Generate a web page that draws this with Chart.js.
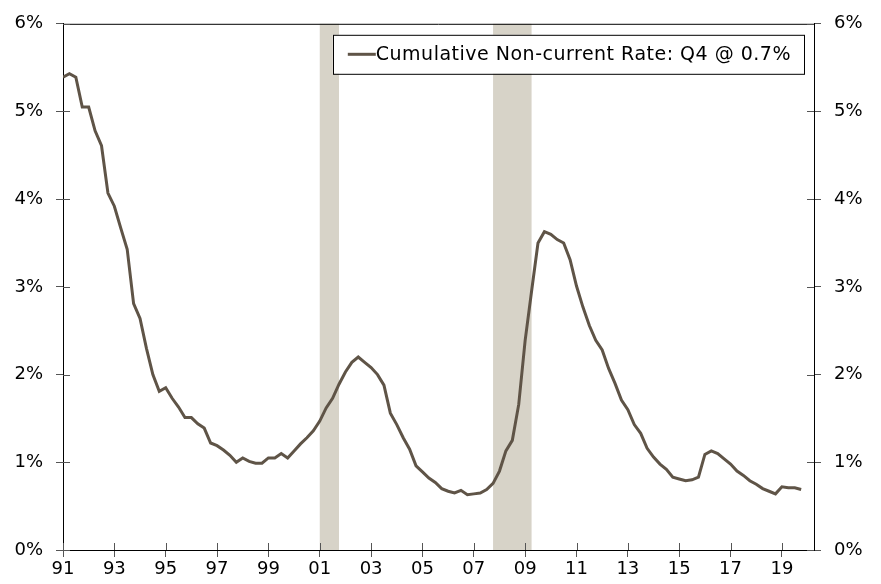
<!DOCTYPE html>
<html>
<head>
<meta charset="utf-8">
<script src="https://cdn.jsdelivr.net/npm/chart.js@4.4.0/dist/chart.umd.min.js"></script>
<style>
  html, body { margin: 0; padding: 0; background: #fff; }
  #wrap { width: 881px; height: 584px; }
</style>
</head>
<body>
<div id="wrap"><canvas id="Chart" width="881" height="584"></canvas></div>
<script>
// quarterly series, 1991 Q1 .. 2019 Q4 (percent)
const firstYear = 1991;
const nonCurrentRate = [
    5.39, 5.43, 5.39, 5.05,   // 91
    5.05, 4.78, 4.61, 4.07,   // 92
    3.92, 3.67, 3.43, 2.81,   // 93
    2.64, 2.30, 2.00, 1.81,   // 94
    1.85, 1.73, 1.63, 1.51,   // 95
    1.51, 1.44, 1.39, 1.22,   // 96
    1.19, 1.14, 1.08, 1.00,   // 97
    1.05, 1.01, 0.99, 0.99,   // 98
    1.05, 1.05, 1.10, 1.05,   // 99
    1.13, 1.21, 1.28, 1.36,   // 00
    1.47, 1.62, 1.73, 1.89,   // 01
    2.03, 2.14, 2.20, 2.14,   // 02
    2.08, 2.00, 1.88, 1.56,   // 03
    1.43, 1.28, 1.15, 0.96,   // 04
    0.89, 0.82, 0.77, 0.70,   // 05
    0.67, 0.65, 0.68, 0.63,   // 06
    0.64, 0.65, 0.69, 0.76,   // 07
    0.90, 1.13, 1.25, 1.66,   // 08
    2.39, 2.95, 3.50, 3.63,   // 09
    3.60, 3.54, 3.50, 3.31,   // 10
    3.01, 2.77, 2.56, 2.39,   // 11
    2.28, 2.07, 1.90, 1.71,   // 12
    1.60, 1.43, 1.33, 1.16,   // 13
    1.06, 0.98, 0.92, 0.83,   // 14
    0.81, 0.79, 0.80, 0.83,   // 15
    1.09, 1.13, 1.10, 1.04,   // 16
    0.98, 0.90, 0.85, 0.79,   // 17
    0.75, 0.70, 0.67, 0.64,   // 18
    0.72, 0.71, 0.71, 0.69    // 19
];

// recessions (shaded)
const recessionStart = [2001.0, 2007.75];
const recessionEnd   = [2001.75, 2009.25];

// axis ticks
const yearTicks = [1991, 1993, 1995, 1997, 1999, 2001, 2003, 2005, 2007, 2009, 2011, 2013, 2015, 2017, 2019];
const pctTicks = [0, 1, 2, 3, 4, 5, 6];

const seriesLabel = "Cumulative Non-current Rate: Q4 @ 0.7%";

const lineColor = "#5f5447";
const bandColor = "#d7d3c8";
const font = "DejaVu Sans";

const points = nonCurrentRate.map((v, i) => ({x: firstYear + i / 4, y: v}));

const recessionBands = {
    id: "recessionBands",
    beforeDatasetsDraw(chart) {
        const {ctx, chartArea, scales} = chart;
        ctx.save();
        ctx.fillStyle = bandColor;
        for (let i = 0; i < recessionStart.length; i++) {
            const x0 = scales.x.getPixelForValue(recessionStart[i]);
            const x1 = scales.x.getPixelForValue(recessionEnd[i]);
            ctx.fillRect(x0, chartArea.top, x1 - x0, chartArea.bottom - chartArea.top);
        }
        ctx.restore();
    }
};

// ticks cross the axis lines, frame on top, boxed legend inside the plot
const frameAndLegend = {
    id: "frameAndLegend",
    afterDraw(chart) {
        const {ctx, chartArea, scales} = chart;
        ctx.save();
        ctx.strokeStyle = "#000";
        ctx.lineWidth = 1;
        ctx.beginPath();
        ctx.moveTo(chartArea.left, chartArea.top + 0.5);
        ctx.lineTo(chartArea.right, chartArea.top + 0.5);
        ctx.stroke();

        ctx.strokeStyle = "#555";
        ctx.beginPath();
        scales.x.ticks.forEach(t => {
            const px = Math.round(scales.x.getPixelForValue(t.value)) + 0.5;
            ctx.moveTo(px, chartArea.bottom);
            ctx.lineTo(px, chartArea.bottom - 7);
        });
        scales.y.ticks.forEach(t => {
            const py = Math.round(scales.y.getPixelForValue(t.value)) + 0.5;
            ctx.moveTo(chartArea.left, py);
            ctx.lineTo(chartArea.left + 7, py);
            ctx.moveTo(chartArea.right, py);
            ctx.lineTo(chartArea.right - 7, py);
        });
        ctx.stroke();

        // legend
        ctx.font = "19px " + font;
        ctx.letterSpacing = "0.5px";
        const textW = ctx.measureText(seriesLabel).width;
        const boxRight = chartArea.right - 10;
        const boxTop = chartArea.top + 11;
        const boxH = 39;
        const boxW = textW + 56;
        const boxLeft = boxRight - boxW;
        ctx.fillStyle = "#fff";
        ctx.fillRect(boxLeft, boxTop, boxW, boxH);
        ctx.strokeStyle = "#000";
        ctx.strokeRect(Math.round(boxLeft) + 0.5, boxTop + 0.5, Math.round(boxW), boxH);
        const midY = boxTop + boxH / 2;
        ctx.strokeStyle = lineColor;
        ctx.lineWidth = 3;
        ctx.beginPath();
        ctx.moveTo(boxLeft + 15, midY);
        ctx.lineTo(boxLeft + 43, midY);
        ctx.stroke();
        ctx.fillStyle = "#000";
        ctx.textBaseline = "middle";
        ctx.fillText(seriesLabel, boxLeft + 43, midY + 1);
        ctx.restore();
    }
};

const ctx = document.getElementById("Chart").getContext("2d");
ctx.letterSpacing = "0.5px";
const chart = new Chart(ctx, {
    type: "line",
    data: {
        datasets: [{
            label: seriesLabel,
            data: points,
            borderColor: lineColor,
            borderWidth: 3,
            pointRadius: 0,
            tension: 0,
            fill: false
        }]
    },
    options: {
        responsive: false,
        animation: false,
        layout: { padding: { top: 19, left: 0, right: 0, bottom: 0 } },
        plugins: {
            legend: { display: false },
            title: { display: false },
            tooltip: { enabled: false }
        },
        scales: {
            x: {
                type: "linear",
                min: 1991,
                max: 2020.25,
                afterBuildTicks: (scale) => { scale.ticks = yearTicks.map(v => ({value: v})); },
                afterFit: (scale) => { scale.height = 34; },
                border: { color: "#000", width: 1 },
                grid: { drawOnChartArea: false, tickLength: 7, color: "#555" },
                ticks: {
                    autoSkip: false,
                    maxRotation: 0,
                    padding: 2,
                    color: "#000",
                    font: { family: font, size: 18 },
                    callback: (v) => String(v).slice(2)
                }
            },
            y: {
                position: "left",
                min: 0,
                max: 6,
                afterBuildTicks: (scale) => { scale.ticks = pctTicks.map(v => ({value: v})); },
                afterFit: (scale) => { scale.width = 63; },
                border: { color: "#000", width: 1 },
                grid: { drawOnChartArea: false, tickLength: 7, color: "#555" },
                ticks: {
                    padding: 13,
                    color: "#000",
                    font: { family: font, size: 18 },
                    callback: (v) => v + "%"
                }
            },
            y2: {
                position: "right",
                min: 0,
                max: 6,
                afterBuildTicks: (scale) => { scale.ticks = pctTicks.map(v => ({value: v})); },
                afterFit: (scale) => { scale.width = 67; },
                border: { color: "#000", width: 1 },
                grid: { drawOnChartArea: false, tickLength: 7, color: "#555" },
                ticks: {
                    padding: 13,
                    color: "#000",
                    font: { family: font, size: 18 },
                    callback: (v) => v + "%"
                }
            }
        }
    },
    plugins: [recessionBands, frameAndLegend]
});
</script>
</body>
</html>
